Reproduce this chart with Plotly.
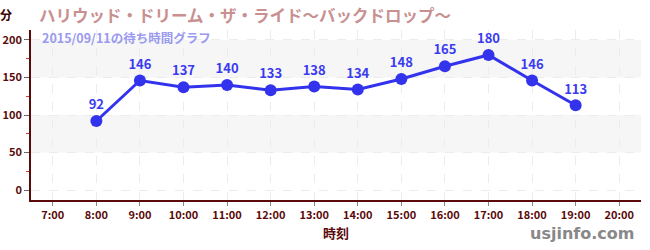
import plotly.graph_objects as go

hours = [8, 9, 10, 11, 12, 13, 14, 15, 16, 17, 18, 19]
waits = [92, 146, 137, 140, 133, 138, 134, 148, 165, 180, 146, 113]
tick_hours = list(range(7, 21))
tick_labels = [f"{h}:00" for h in tick_hours]
title_text = "ハリウッド・ドリーム・ザ・ライド～バックドロップ～"
subtitle_text = "2015/09/11の待ち時間グラフ"

FONT = "Noto Sans CJK JP"
AXC = "#5a0a0a"

fig = go.Figure()
fig.add_trace(go.Scatter(
    x=hours, y=waits, mode="lines+markers+text",
    text=[str(v) for v in waits], textposition="top center",
    textfont=dict(family=FONT, size=13, color="#3a3af0", weight="bold"),
    line=dict(color="#3333ee", width=3),
    marker=dict(color="#3333ee", size=12),
    cliponaxis=False, hoverinfo="skip", showlegend=False,
))

for y0, y1 in [(50, 100), (150, 200)]:
    fig.add_shape(type="rect", xref="paper", x0=0, x1=1, yref="y", y0=y0, y1=y1,
                  fillcolor="#f6f6f6", line_width=0, layer="below")

fig.update_layout(
    width=650, height=250,
    margin=dict(l=31, r=9, t=30, b=50),
    paper_bgcolor="white", plot_bgcolor="white",
    font=dict(family=FONT, color=AXC),
    xaxis=dict(
        range=[6.5, 20.5], tickmode="array", tickvals=tick_hours, ticktext=tick_labels,
        showline=True, linecolor=AXC, linewidth=1.5, automargin=False,
        ticks="outside", ticklen=4, tickcolor="#888",
        tickfont=dict(family=FONT, size=11, color=AXC, weight="bold"),
        showgrid=True, gridcolor="#ececec", griddash="dash", zeroline=False,
        title=dict(text="時刻", font=dict(family=FONT, size=13, color=AXC, weight="bold"), standoff=8),
    ),
    yaxis=dict(
        range=[-13.3, 213.3], tickmode="array", tickvals=[0, 50, 100, 150, 200],
        showline=True, linecolor=AXC, linewidth=1.5, automargin=False,
        ticks="outside", ticklen=5, tickcolor="#666",
        tickfont=dict(family=FONT, size=11, color=AXC, weight="bold"),
        showgrid=True, gridcolor="#ececec", griddash="dash", zeroline=False,
        minor=dict(tickvals=[25, 75, 125, 175], ticks="outside", ticklen=3, tickcolor="#e03030", showgrid=False),
    ),
    annotations=[
        dict(text=title_text, xref="paper", yref="paper", x=(37 - 31) / 610, y=1, showarrow=False,
             xanchor="left", yanchor="top", yshift=29,
             font=dict(family=FONT, size=16.5, color="#c89090", weight="bold")),
        dict(text="分", xref="paper", yref="paper", x=0, y=1, showarrow=False,
             xanchor="right", yanchor="bottom", xshift=-17, yshift=5,
             font=dict(family=FONT, size=12, color="#3a0000", weight="bold")),
        dict(text=subtitle_text, xref="paper", yref="paper", x=0, y=1, showarrow=False,
             xanchor="left", yanchor="top", xshift=9, yshift=4,
             font=dict(family=FONT, size=12.5, color="#9a9af0", weight="bold")),
        dict(text="usjinfo.com", xref="paper", yref="paper", x=1, y=0, showarrow=False,
             xanchor="right", yanchor="top", xshift=-5, yshift=-22,
             font=dict(family="DejaVu Sans", size=16, color="#888888", weight="bold")),
    ],
)
fig.write_html("out.html")
